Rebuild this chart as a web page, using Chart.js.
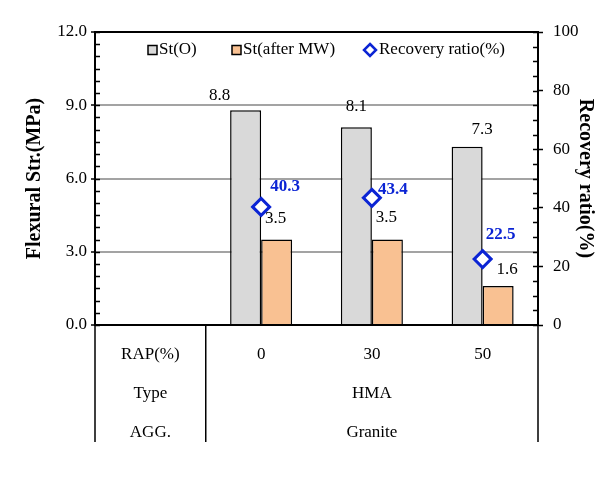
<!DOCTYPE html>
<html>
<head>
<meta charset="utf-8">
<script src="https://cdn.jsdelivr.net/npm/chart.js@4.4.1/dist/chart.umd.min.js"></script>
<style>
  html, body { margin: 0; padding: 0; background: #fff; }
  #wrap { width: 608px; height: 484px; }
</style>
</head>
<body>
<div id="wrap"><canvas id="chart"></canvas></div>
<script>
// data
const categories = [['RAP(%)', 'Type', 'AGG.'], ['0', '', ''], ['30', 'HMA', 'Granite'], ['50', '', '']];
const strengthOriginal = [null, 8.8, 8.1, 7.3];
const strengthAfterMW = [null, 3.5, 3.5, 1.6];
const recoveryRatio = [null, 40.3, 43.4, 22.5];
const leftTicks = [0, 3, 6, 9, 12];
const rightTicks = [0, 20, 40, 60, 80, 100];

const FONT = "'Liberation Serif', 'Times New Roman', serif";
const BLUE = '#0b24d4';
const GREY = '#d9d9d9';

// labels next to each mark, nudged like the hand-placed Excel labels
const labelPlugin = {
  id: 'valueLabels',
  afterDatasetsDraw(chart) {
    const ctx = chart.ctx;
    const nudges = [
      [[0, 0], [-26, -15], [0, -21], [15, -17]],
      [[0, 0], [-1, -21], [-1, -22], [9, -16]],
      [[0, 0], [24, -20], [21, -8], [18, -24]]
    ];
    ctx.save();
    ctx.textAlign = 'center';
    ctx.textBaseline = 'middle';
    chart.data.datasets.forEach((ds, di) => {
      const meta = chart.getDatasetMeta(di);
      meta.data.forEach((el, i) => {
        const v = ds.data[i];
        if (v == null) return;
        const [dx, dy] = nudges[di][i];
        if (di === 2) {
          ctx.font = 'bold 17px ' + FONT;
          ctx.fillStyle = BLUE;
        } else {
          ctx.font = '17px ' + FONT;
          ctx.fillStyle = '#000';
        }
        ctx.fillText(v.toFixed(1), el.x + dx, el.y + dy);
      });
    });
    ctx.restore();
  }
};

// frame top line, minor ticks, table lines under the x axis, legend
const framePlugin = {
  id: 'frame',
  afterDraw(chart) {
    const ctx = chart.ctx;
    const a = chart.chartArea;
    const x = chart.scales.x, y = chart.scales.y, y1 = chart.scales.y1;
    ctx.save();
    ctx.strokeStyle = '#000';
    ctx.lineWidth = 2;
    ctx.beginPath();
    ctx.moveTo(a.left - 1, a.top);
    ctx.lineTo(a.right + 1, a.top);
    ctx.stroke();

    ctx.lineWidth = 1.5;
    ctx.beginPath();
    for (let v = 0; v <= 12; v += 0.5) {
      const py = Math.round(y.getPixelForValue(v)) + 0.5;
      ctx.moveTo(a.left, py); ctx.lineTo(a.left + 5, py);
    }
    for (let v = 0; v <= 100; v += 5) {
      const py = Math.round(y1.getPixelForValue(v)) + 0.5;
      ctx.moveTo(a.right, py); ctx.lineTo(a.right - 5, py);
    }
    ctx.stroke();

    // table grid under the plot
    const split = (x.getPixelForValue(0) + x.getPixelForValue(1)) / 2;
    const tableBottom = a.bottom + 117;
    ctx.lineWidth = 1.5;
    ctx.beginPath();
    [a.left, split, a.right].forEach(px => {
      ctx.moveTo(px, a.bottom); ctx.lineTo(px, tableBottom);
    });
    ctx.stroke();

    // legend inside the plot
    const ly = a.top + 18;
    const starts = [53, 137, 275];
    ctx.font = '17px ' + FONT;
    ctx.textBaseline = 'middle';
    ctx.textAlign = 'left';
    chart.data.datasets.forEach((ds, di) => {
      const sx = a.left + starts[di];
      if (di < 2) {
        ctx.fillStyle = ds.backgroundColor;
        ctx.fillRect(sx, ly - 4.5, 9, 9);
        ctx.lineWidth = 1.5;
        ctx.strokeStyle = '#000';
        ctx.strokeRect(sx, ly - 4.5, 9, 9);
        ctx.fillStyle = '#000';
        ctx.fillText(ds.label, sx + 11, ly);
      } else {
        ctx.lineWidth = 2.5;
        ctx.strokeStyle = BLUE;
        ctx.fillStyle = '#fff';
        ctx.beginPath();
        ctx.moveTo(sx, ly - 6); ctx.lineTo(sx + 6, ly);
        ctx.lineTo(sx, ly + 6); ctx.lineTo(sx - 6, ly);
        ctx.closePath();
        ctx.fill(); ctx.stroke();
        ctx.fillStyle = '#000';
        ctx.fillText(ds.label, sx + 9, ly);
      }
    });
    ctx.restore();
  }
};

const data = {
  labels: categories,
  datasets: [
    {
      type: 'bar',
      label: 'St(O)',
      data: strengthOriginal,
      backgroundColor: GREY,
      borderColor: '#000',
      borderWidth: 1.5,
      yAxisID: 'y',
      order: 2
    },
    {
      type: 'bar',
      label: 'St(after MW)',
      data: strengthAfterMW,
      backgroundColor: '#f9c192',
      borderColor: '#000',
      borderWidth: 1.5,
      yAxisID: 'y',
      order: 2
    },
    {
      type: 'line',
      label: 'Recovery ratio(%)',
      data: recoveryRatio,
      showLine: false,
      pointStyle: 'rectRot',
      pointRadius: 8.5,
      pointHoverRadius: 8.5,
      pointBorderWidth: 3,
      pointBorderColor: BLUE,
      pointBackgroundColor: '#fff',
      yAxisID: 'y1',
      order: 1
    }
  ]
};

const config = {
  data: data,
  options: {
    responsive: true,
    maintainAspectRatio: false,
    animation: false,
    layout: { padding: { top: 32, left: 0, right: 0, bottom: 0 } },
    datasets: { bar: { categoryPercentage: 0.56, barPercentage: 1 } },
    plugins: {
      legend: { display: false },
      tooltip: { enabled: false }
    },
    scales: {
      x: {
        type: 'category',
        grid: { display: false, drawTicks: false },
        border: { display: true, color: '#000', width: 2 },
        ticks: {
          color: '#000',
          maxRotation: 0,
          autoSkip: false,
          padding: 10,
          font: { family: FONT, size: 17, lineHeight: 2.3 }
        },
        afterFit(scale) { scale.height = 159; }
      },
      y: {
        position: 'left',
        min: 0,
        max: 12,
        afterBuildTicks(scale) { scale.ticks = leftTicks.map(v => ({ value: v })); },
        ticks: {
          color: '#000',
          padding: 4,
          font: { family: FONT, size: 17 },
          callback: v => Number(v).toFixed(1)
        },
        grid: {
          color: ctx => (ctx.tick && ctx.tick.value > 0 && ctx.tick.value < 12) ? '#a3a3a3' : 'rgba(0,0,0,0)',
          lineWidth: 2,
          tickColor: '#000',
          tickWidth: 1.5,
          tickLength: 4
        },
        border: { display: true, color: '#000', width: 2 },
        title: {
          display: true,
          text: 'Flexural Str.(MPa)',
          color: '#000',
          font: { family: FONT, size: 20, weight: 'bold' },
          padding: { top: 23, bottom: 0 }
        },
        afterFit(scale) { scale.width = 95; }
      },
      y1: {
        position: 'right',
        min: 0,
        max: 100,
        afterBuildTicks(scale) { scale.ticks = rightTicks.map(v => ({ value: v })); },
        ticks: {
          color: '#000',
          padding: 10,
          font: { family: FONT, size: 17 }
        },
        grid: {
          drawOnChartArea: false,
          tickColor: '#000',
          tickWidth: 1.5,
          tickLength: 5
        },
        border: { display: true, color: '#000', width: 2 },
        title: {
          display: true,
          text: 'Recovery ratio(%)',
          color: '#000',
          font: { family: FONT, size: 20, weight: 'bold' },
          padding: { top: 11, bottom: 0 }
        },
        afterFit(scale) { scale.width = 70; }
      }
    }
  },
  plugins: [labelPlugin, framePlugin]
};

const ctx = document.getElementById('chart');
new Chart(ctx, config);
</script>
</body>
</html>
